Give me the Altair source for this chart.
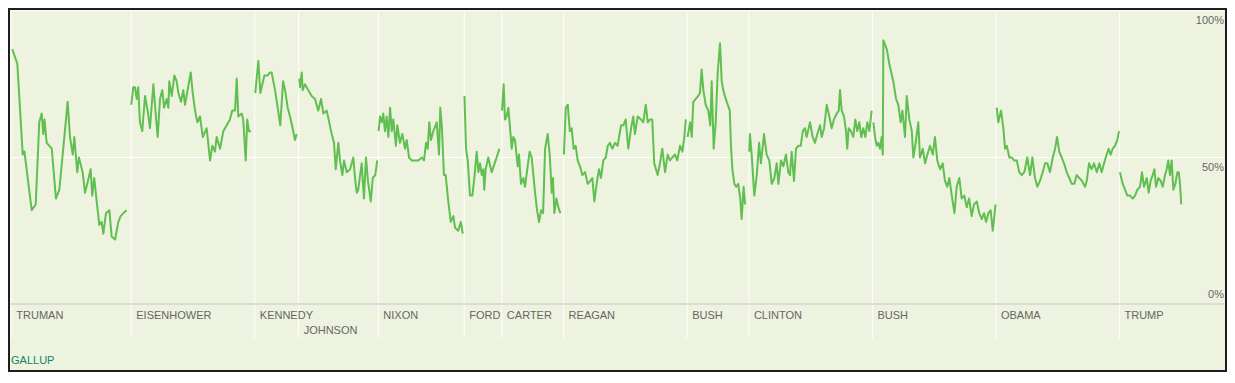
import altair as alt
import pandas as pd

# ---------------- data ----------------
truman_years = [1945.34, 1945.67, 1946.02, 1946.13, 1946.60, 1946.86, 1947.09, 1947.25, 1947.35, 1947.43,
                1947.57, 1947.90, 1948.17, 1948.39, 1948.93, 1949.08, 1949.26, 1949.36, 1949.55, 1949.66,
                1949.90, 1950.05, 1950.20, 1950.42, 1950.52, 1950.65, 1950.81, 1950.98, 1951.13, 1951.24,
                1951.41, 1951.63, 1951.78, 1952.00, 1952.21, 1952.36, 1952.53, 1952.75]
truman_vals = [87, 82, 51, 52, 32, 34, 62, 65, 58, 63,
               55, 53, 36, 39, 69, 57, 51, 57, 45, 50,
               45, 38, 41, 46, 37, 43, 35, 27, 28, 24,
               31, 32, 23, 22, 28, 30, 31, 32]

eisenhower_years = [1953.05, 1953.18, 1953.29, 1953.40, 1953.50, 1953.61, 1953.76, 1953.94, 1954.11, 1954.26,
                    1954.48, 1954.63, 1954.76, 1954.91, 1955.06, 1955.17, 1955.34, 1955.45, 1955.51, 1955.67,
                    1955.84, 1955.99, 1956.10, 1956.27, 1956.42, 1956.53, 1956.90, 1957.03, 1957.18, 1957.33,
                    1957.50, 1957.68, 1957.93, 1958.15, 1958.30, 1958.47, 1958.58, 1958.80, 1959.01, 1959.23,
                    1959.44, 1959.59, 1959.77, 1959.88, 1959.98, 1960.20, 1960.30, 1960.46, 1960.56, 1960.67,
                    1960.80]
eisenhower_vals = [68, 74, 74, 70, 74, 62, 59, 71, 66, 60,
                   75, 65, 57, 70, 73, 67, 70, 67, 76, 71,
                   78, 76, 72, 69, 73, 68, 79, 72, 66, 62,
                   64, 57, 60, 49, 54, 52, 57, 53, 59, 61,
                   63, 66, 66, 77, 64, 65, 63, 49, 63, 59,
                   59]

kennedy_years = [1961.08, 1961.28, 1961.41, 1961.67, 1961.89, 1962.03, 1962.14, 1962.36, 1962.53, 1962.70,
                 1962.88, 1963.01, 1963.18, 1963.33, 1963.50, 1963.65, 1963.76]
kennedy_vals = [72, 83, 72, 78, 78, 79, 79, 73, 67, 61,
                76, 73, 67, 64, 60, 56, 58]

johnson_years = [1963.93, 1963.98, 1964.09, 1964.15, 1964.30, 1964.51, 1964.73, 1964.95, 1965.16, 1965.34,
                 1965.49, 1965.71, 1965.87, 1966.03, 1966.18, 1966.29, 1966.46, 1966.57, 1966.72, 1966.83,
                 1967.00, 1967.22, 1967.43, 1967.54, 1967.65, 1967.75, 1967.97, 1968.12, 1968.25, 1968.38,
                 1968.56, 1968.69, 1968.85, 1968.98]
johnson_vals = [77, 74, 79, 73, 75, 73, 71, 70, 66, 70,
                65, 66, 62, 58, 55, 46, 55, 49, 44, 49,
                45, 46, 50, 43, 38, 39, 48, 36, 50, 42,
                35, 43, 44, 49]

nixon_years = [1969.07, 1969.16, 1969.27, 1969.37, 1969.48, 1969.59, 1969.70, 1969.81, 1969.92, 1970.02,
               1970.19, 1970.28, 1970.45, 1970.60, 1970.78, 1970.89, 1971.04, 1971.21, 1971.43, 1971.64,
               1971.86, 1972.01, 1972.14, 1972.25, 1972.35, 1972.46, 1972.61, 1972.83, 1972.98, 1973.06,
               1973.17, 1973.30, 1973.41, 1973.58, 1973.74, 1973.91, 1974.02, 1974.23, 1974.39, 1974.52]
nixon_vals = [59, 64, 62, 65, 59, 64, 57, 67, 59, 63,
              54, 61, 55, 58, 53, 56, 50, 49, 49, 49,
              50, 49, 55, 53, 62, 56, 59, 62, 51, 67,
              60, 44, 44, 35, 28, 30, 26, 25, 28, 24]

ford_years = [1974.63, 1974.73, 1974.84, 1974.99, 1975.14, 1975.27, 1975.42, 1975.53, 1975.64, 1975.75,
              1975.85, 1975.91, 1976.00, 1976.17, 1976.39, 1976.65, 1976.89]
ford_vals = [71, 53, 49, 37, 37, 43, 52, 45, 48, 44,
             46, 39, 46, 50, 45, 49, 53]

carter_years = [1977.06, 1977.17, 1977.25, 1977.36, 1977.47, 1977.58, 1977.69, 1977.79, 1977.90, 1978.08,
                1978.16, 1978.29, 1978.44, 1978.55, 1978.72, 1978.85, 1978.98, 1979.11, 1979.20, 1979.33,
                1979.46, 1979.59, 1979.72, 1979.85, 1980.02, 1980.15, 1980.28, 1980.36, 1980.45, 1980.58,
                1980.71, 1980.84]
carter_vals = [66, 75, 63, 64, 67, 60, 53, 57, 56, 47,
               51, 41, 43, 40, 47, 52, 50, 43, 38, 32,
               28, 32, 31, 53, 58, 51, 38, 43, 31, 36,
               33, 31]

reagan_years = [1981.07, 1981.19, 1981.32, 1981.45, 1981.57, 1981.70, 1981.83, 1981.96, 1982.11, 1982.26,
                1982.44, 1982.61, 1982.78, 1982.91, 1983.04, 1983.19, 1983.34, 1983.47, 1983.62, 1983.78,
                1983.91, 1984.05, 1984.20, 1984.38, 1984.55, 1984.77, 1984.92, 1985.07, 1985.24, 1985.42,
                1985.56, 1985.67, 1985.85, 1986.06, 1986.21, 1986.37, 1986.50, 1986.65, 1986.79, 1986.92,
                1987.14, 1987.29, 1987.44, 1987.62, 1987.79, 1987.94, 1988.09, 1988.26, 1988.41, 1988.59,
                1988.74, 1988.87, 1988.96]
reagan_vals = [51, 67, 68, 59, 60, 53, 54, 49, 47, 44,
               45, 41, 42, 43, 35, 41, 46, 43, 49, 50,
               54, 55, 53, 55, 54, 61, 61, 63, 53, 60,
               64, 58, 64, 63, 62, 68, 62, 63, 63, 48,
               44, 48, 53, 45, 51, 49, 50, 51, 49, 54,
               52, 57, 63]

bush_years = [1989.08, 1989.24, 1989.35, 1989.45, 1989.61, 1989.77, 1989.88, 1989.99, 1990.10, 1990.25,
              1990.42, 1990.55, 1990.64, 1990.77, 1990.90, 1991.03, 1991.18, 1991.29, 1991.39, 1991.55,
              1991.68, 1991.81, 1991.89, 1991.98, 1992.11, 1992.23, 1992.36, 1992.49, 1992.58, 1992.71,
              1992.80]
bush_vals = [57, 62, 57, 69, 70, 71, 72, 80, 73, 68,
             66, 61, 76, 53, 62, 79, 89, 76, 73, 70,
             68, 66, 54, 46, 41, 40, 41, 36, 29, 40,
             34]

clinton_years = [1993.07, 1993.12, 1993.23, 1993.40, 1993.56, 1993.71, 1993.83, 1994.03, 1994.20, 1994.37,
                 1994.53, 1994.70, 1994.85, 1994.96, 1995.13, 1995.28, 1995.45, 1995.60, 1995.71, 1995.82,
                 1995.97, 1996.10, 1996.25, 1996.41, 1996.54, 1996.68, 1996.79, 1997.01, 1997.18, 1997.33,
                 1997.48, 1997.66, 1997.77, 1997.92, 1998.09, 1998.26, 1998.41, 1998.56, 1998.74, 1998.87,
                 1998.95, 1999.06, 1999.21, 1999.34, 1999.42, 1999.51, 1999.66, 1999.81, 1999.94, 2000.07,
                 2000.20, 2000.33, 2000.46, 2000.59, 2000.72, 2000.85, 2001.00]
clinton_vals = [52, 58, 51, 37, 44, 55, 48, 58, 51, 49,
                41, 43, 48, 41, 49, 47, 51, 45, 44, 52,
                42, 53, 54, 54, 59, 60, 57, 62, 57, 55,
                58, 61, 57, 60, 68, 64, 60, 63, 65, 66,
                73, 66, 64, 59, 53, 60, 59, 57, 63, 59,
                62, 57, 60, 57, 62, 59, 66]

bush2_years = [2001.11, 2001.22, 2001.33, 2001.43, 2001.54, 2001.65, 2001.72, 2001.76, 2001.98, 2002.14,
               2002.40, 2002.58, 2002.73, 2002.88, 2002.99, 2003.16, 2003.27, 2003.44, 2003.60, 2003.70,
               2003.85, 2004.02, 2004.13, 2004.31, 2004.46, 2004.61, 2004.78, 2004.96, 2005.10, 2005.25,
               2005.43, 2005.60, 2005.75, 2005.90, 2006.03, 2006.19, 2006.36, 2006.51, 2006.68, 2006.83,
               2007.00, 2007.16, 2007.31, 2007.48, 2007.63, 2007.81, 2007.97, 2008.13, 2008.28, 2008.41,
               2008.56, 2008.71, 2008.84, 2008.95, 2009.02]
bush2_vals = [62, 57, 54, 55, 53, 57, 51, 90, 87, 82,
              76, 70, 68, 62, 66, 57, 71, 63, 59, 50,
              55, 62, 50, 53, 48, 51, 54, 51, 57, 49,
              46, 48, 42, 40, 43, 37, 31, 40, 43, 36,
              37, 33, 36, 30, 34, 35, 31, 29, 31, 28,
              31, 32, 25, 30, 34]

obama_years = [2009.10, 2009.20, 2009.38, 2009.53, 2009.64, 2009.75, 2009.92, 2010.07, 2010.22, 2010.40,
               2010.56, 2010.72, 2010.89, 2011.08, 2011.26, 2011.41, 2011.58, 2011.73, 2011.90, 2012.08,
               2012.23, 2012.38, 2012.55, 2012.73, 2012.88, 2013.01, 2013.15, 2013.31, 2013.46, 2013.63,
               2013.80, 2013.96, 2014.13, 2014.28, 2014.45, 2014.63, 2014.82, 2014.93, 2015.08, 2015.25,
               2015.40, 2015.58, 2015.75, 2015.90, 2016.05, 2016.22, 2016.35, 2016.48, 2016.61, 2016.76,
               2016.91, 2017.02]
obama_vals = [67, 62, 66, 60, 53, 54, 50, 50, 49, 49,
              45, 44, 45, 50, 44, 50, 43, 40, 42, 45,
              48, 48, 45, 50, 53, 57, 52, 50, 48, 45,
              43, 41, 41, 44, 43, 42, 40, 42, 48, 46,
              48, 45, 48, 45, 48, 51, 53, 51, 53, 54,
              56, 59]

trump_years = [2017.08, 2017.26, 2017.41, 2017.56, 2017.73, 2017.91, 2018.06, 2018.21, 2018.38, 2018.51,
               2018.64, 2018.82, 2018.94, 2019.07, 2019.20, 2019.31, 2019.42, 2019.57, 2019.72, 2019.85,
               2020.00, 2020.11, 2020.21, 2020.32, 2020.43, 2020.54, 2020.67, 2020.80, 2020.89, 2020.97,
               2021.05]
trump_vals = [45, 41, 39, 37, 37, 36, 37, 39, 40, 45,
              40, 43, 38, 42, 44, 46, 40, 43, 42, 40,
              44, 46, 49, 44, 49, 39, 41, 45, 45, 41,
              34]

terms = [
    ("Truman", truman_years, truman_vals),
    ("Eisenhower", eisenhower_years, eisenhower_vals),
    ("Kennedy", kennedy_years, kennedy_vals),
    ("Johnson", johnson_years, johnson_vals),
    ("Nixon", nixon_years, nixon_vals),
    ("Ford", ford_years, ford_vals),
    ("Carter", carter_years, carter_vals),
    ("Reagan", reagan_years, reagan_vals),
    ("Bush", bush_years, bush_vals),
    ("Clinton", clinton_years, clinton_vals),
    ("Bush2", bush2_years, bush2_vals),
    ("Obama", obama_years, obama_vals),
    ("Trump", trump_years, trump_vals),
]

president_names = ["TRUMAN", "EISENHOWER", "KENNEDY", "JOHNSON", "NIXON", "FORD", "CARTER",
                   "REAGAN", "BUSH", "CLINTON", "BUSH", "OBAMA", "TRUMP"]
president_starts = [1945.28, 1953.05, 1961.05, 1963.89, 1969.05, 1974.61, 1977.05,
                    1981.05, 1989.05, 1993.05, 2001.05, 2009.05, 2017.05]
president_label_row = [1, 1, 1, 2, 1, 1, 1, 1, 1, 1, 1, 1, 1]

grid_values = [100, 50]
tick_values = [100, 50, 0]
tick_labels = ["100%", "50%", "0%"]

# ---------------- frames ----------------
rows = []
for name, yrs, vals in terms:
    for y, v in zip(yrs, vals):
        rows.append({"term": name, "year": y, "approval": v})
line_df = pd.DataFrame(rows)
pres_df = pd.DataFrame({"name": president_names, "start": president_starts, "row": president_label_row})
grid_df = pd.DataFrame({"v": grid_values})
tick_df = pd.DataFrame({"v": tick_values, "label": tick_labels})
one_df = pd.DataFrame({"a": [0]})

W = 1213
H = 293
BG = "#edf3df"
GREEN = "#60bf50"
LABEL = "#666666"
FONT = "Liberation Sans"

xscale = alt.Scale(domain=[1945.26, 2023.82], nice=False, zero=False)
yscale = alt.Scale(domain=[0, 100], nice=False)

frame = alt.Chart(one_df).mark_rect(fill="transparent", stroke="#1e1e1e", strokeWidth=2).encode(
    x=alt.value(-2), x2=alt.value(W + 2), y=alt.value(-2), y2=alt.value(360)
)

hgrid = alt.Chart(grid_df).mark_rule(color="white", strokeWidth=1).encode(
    y=alt.Y("v:Q", scale=yscale, axis=None), x=alt.value(0), x2=alt.value(W)
)

vgrid = alt.Chart(pres_df).mark_rule(color="white", strokeWidth=1).encode(
    x=alt.X("start:Q", scale=xscale, axis=None), y=alt.value(0), y2=alt.value(327)
)

baseline = alt.Chart(tick_df).transform_filter("datum.v == 0").mark_rule(
    color="#dadada", strokeWidth=2
).encode(y=alt.Y("v:Q", scale=yscale, axis=None), x=alt.value(0), x2=alt.value(W))

line = alt.Chart(line_df).mark_line(color=GREEN, strokeWidth=2, strokeJoin="round").encode(
    x=alt.X("year:Q", scale=xscale, axis=None),
    y=alt.Y("approval:Q", scale=yscale, axis=None),
    detail="term:N",
)

ylab_top = alt.Chart(tick_df).transform_filter("datum.v > 0").mark_text(
    align="right", baseline="middle", dy=10, fontSize=11, font=FONT, color=LABEL
).encode(y=alt.Y("v:Q", scale=yscale, axis=None), x=alt.value(W), text="label:N")

ylab_zero = alt.Chart(tick_df).transform_filter("datum.v == 0").mark_text(
    align="right", baseline="middle", dy=-9, fontSize=11, font=FONT, color=LABEL
).encode(y=alt.Y("v:Q", scale=yscale, axis=None), x=alt.value(W), text="label:N")

names_row1 = alt.Chart(pres_df).transform_filter("datum.row == 1").mark_text(
    align="left", baseline="middle", dx=5, fontSize=11, font=FONT, color=LABEL
).encode(x=alt.X("start:Q", scale=xscale, axis=None), y=alt.value(305), text="name:N")

names_row2 = alt.Chart(pres_df).transform_filter("datum.row == 2").mark_text(
    align="left", baseline="middle", dx=5, fontSize=11, font=FONT, color=LABEL
).encode(x=alt.X("start:Q", scale=xscale, axis=None), y=alt.value(320), text="name:N")

gallup = alt.Chart(one_df).mark_text(
    align="left", baseline="middle", fontSize=11, font=FONT, color="#14855f", text="GALLUP"
).encode(x=alt.value(0), y=alt.value(350))

chart = alt.layer(
    frame, hgrid, vgrid, baseline, line, ylab_top, ylab_zero, names_row1, names_row2, gallup
).properties(
    width=W, height=H, background=BG, padding=0
).configure_view(stroke=None)

chart.save("out.html", embed_options={"renderer": "svg", "actions": False})
